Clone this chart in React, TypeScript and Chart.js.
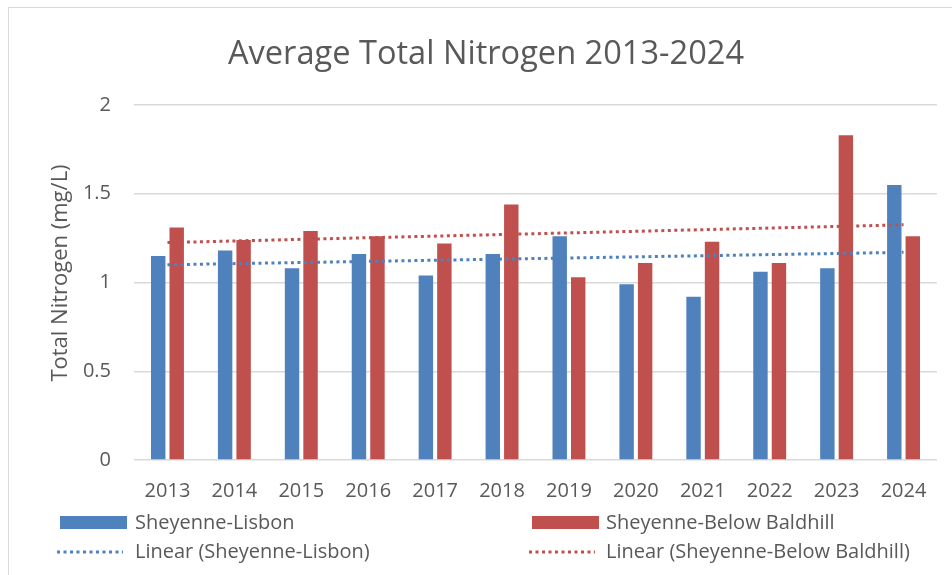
import React, { useEffect, useRef } from "react";
import { Chart, registerables } from "chart.js";

Chart.register(...registerables);

const years = ["2013", "2014", "2015", "2016", "2017", "2018", "2019", "2020", "2021", "2022", "2023", "2024"];
const lisbon = [1.15, 1.18, 1.08, 1.16, 1.04, 1.16, 1.26, 0.99, 0.92, 1.06, 1.08, 1.55];
const baldhill = [1.31, 1.24, 1.29, 1.26, 1.22, 1.44, 1.03, 1.11, 1.23, 1.11, 1.83, 1.26];
// trend line end points (first year, last year)
const lisbonTrend = [1.1, 1.17];
const baldhillTrend = [1.225, 1.325];
const yTicks = [0, 0.5, 1, 1.5, 2];

const seriesNames = ["Sheyenne-Lisbon", "Sheyenne-Below Baldhill"];
const trendNames = ["Linear (Sheyenne-Lisbon)", "Linear (Sheyenne-Below Baldhill)"];
const yTitle = "Total Nitrogen (mg/L)";

const BLUE = "#4F81BD";
const RED = "#C0504D";
const TEXT = "#595959";
const GRID = "#d9d9d9";
const FONT = "'Open Sans', sans-serif";

function endpointsToSeries(ends: number[]): (number | null)[] {
  return years.map((_, i) => (i === 0 ? ends[0] : i === years.length - 1 ? ends[1] : null));
}

const textPlugin = {
  id: "customText",
  afterDraw(chart: any) {
    const ctx = chart.ctx as CanvasRenderingContext2D;
    ctx.save();
    // y-axis title
    ctx.font = `22px ${FONT}`;
    ctx.fillStyle = TEXT;
    ctx.textAlign = "center";
    ctx.textBaseline = "middle";
    ctx.translate(52, 265);
    ctx.rotate(-Math.PI / 2);
    ctx.fillText(yTitle, 0, 0);
    ctx.restore();

    ctx.save();
    ctx.font = `20px ${FONT}`;
    ctx.textBaseline = "middle";
    ctx.textAlign = "left";
    const cols = [
      { color: BLUE, boxX: 51, textX: 126, w1: 165, w2: 245 },
      { color: RED, boxX: 523, textX: 597, w1: 241, w2: 322 },
    ];
    cols.forEach((c, i) => {
      ctx.fillStyle = c.color;
      ctx.fillRect(c.boxX, 508, 67, 13);
      ctx.strokeStyle = c.color;
      ctx.lineWidth = 3;
      ctx.setLineDash([3, 3.5]);
      ctx.beginPath();
      ctx.moveTo(c.boxX - 3, 544);
      ctx.lineTo(c.boxX + 63, 544);
      ctx.stroke();
      ctx.setLineDash([]);
      ctx.fillStyle = TEXT;
      ctx.fillText(seriesNames[i], c.textX, 515, c.w1);
      ctx.fillText(trendNames[i], c.textX, 544, c.w2);
    });
    ctx.restore();
  },
};

export default function App() {
  const ref = useRef<HTMLCanvasElement | null>(null);

  useEffect(() => {
    if (!ref.current) return;
    const chart = new Chart(ref.current, {
      type: "bar",
      data: {
        labels: years,
        datasets: [
          {
            type: "line" as const,
            label: trendNames[0],
            data: endpointsToSeries(lisbonTrend),
            borderColor: BLUE,
            borderWidth: 3,
            borderDash: [3, 3.5],
            pointRadius: 0,
            spanGaps: true,
            fill: false,
            order: 0,
          },
          {
            type: "line" as const,
            label: trendNames[1],
            data: endpointsToSeries(baldhillTrend),
            borderColor: RED,
            borderWidth: 3,
            borderDash: [3, 3.5],
            pointRadius: 0,
            spanGaps: true,
            fill: false,
            order: 0,
          },
          {
            label: seriesNames[0],
            data: lisbon,
            backgroundColor: BLUE,
            barPercentage: 0.78,
            categoryPercentage: 0.553,
            order: 1,
          },
          {
            label: seriesNames[1],
            data: baldhill,
            backgroundColor: RED,
            barPercentage: 0.78,
            categoryPercentage: 0.553,
            order: 1,
          },
        ],
      } as any,
      options: {
        animation: false,
        responsive: false,
        maintainAspectRatio: false,
        layout: { padding: { left: 26, right: 15, top: 0, bottom: 75 } },
        plugins: {
          legend: { display: false },
          tooltip: { enabled: false },
          title: {
            display: true,
            text: "Average Total Nitrogen 2013-2024",
            color: TEXT,
            font: { family: FONT, size: 32.6, weight: "normal", lineHeight: 1.2 },
            padding: { top: 27, bottom: 30.9 },
          },
        },
        scales: {
          x: {
            grid: { display: false, drawTicks: false },
            border: { display: false },
            ticks: {
              color: TEXT,
              font: { family: FONT, size: 20 },
              padding: 19,
              maxRotation: 0,
              autoSkip: false,
            },
            afterFit(scale: any) {
              scale.height = 40;
            },
          },
          y: {
            min: 0,
            max: 2,
            afterBuildTicks(scale: any) {
              scale.ticks = yTicks.map((v) => ({ value: v }));
            },
            grid: { color: GRID, lineWidth: 1.5, drawTicks: false },
            border: { display: false },
            ticks: {
              color: TEXT,
              font: { family: FONT, size: 20 },
              padding: 23,
              callback: (v: any) => String(v),
            },
            title: { display: false },
            afterFit(scale: any) {
              scale.width = 99;
            },
          },
        },
      } as any,
      plugins: [textPlugin],
    });
    return () => chart.destroy();
  }, []);

  return (
    <div
      style={{
        position: "absolute",
        left: 8,
        top: 7,
        width: 943,
        height: 567,
        borderLeft: `1px solid ${GRID}`,
        borderTop: `1px solid ${GRID}`,
        background: "#fff",
      }}
    >
      <canvas ref={ref} width={943} height={567} style={{ display: "block" }} />
    </div>
  );
}
